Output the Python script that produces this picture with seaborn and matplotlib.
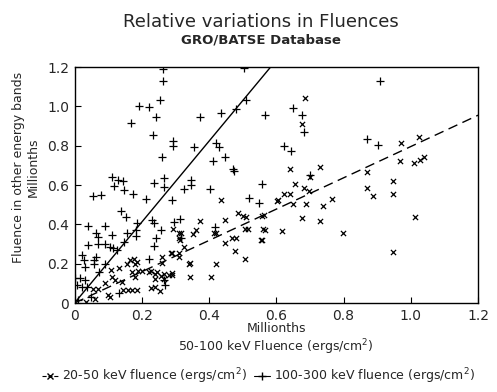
import numpy as np
import pandas as pd
import matplotlib
matplotlib.use("Agg")
import matplotlib.pyplot as plt
from matplotlib.lines import Line2D
import seaborn as sns

# ---------------- data ----------------
# 100-300 keV fluence ("+") vs 50-100 keV fluence (millionths ergs/cm^2)
plus_x = [0.263, 0.263, 0.253, 0.192, 0.221, 0.243, 0.168, 0.233, 0.293, 0.293, 0.259,
          0.372, 0.434, 0.481, 0.511, 0.503, 0.565, 0.354, 0.422, 0.431, 0.447, 0.412, 0.472,
          0.908, 0.649, 0.677, 0.682, 0.622, 0.644, 0.869, 0.902,
          0.556, 0.404, 0.346, 0.346, 0.324, 0.267, 0.267, 0.235, 0.290, 0.519, 0.548, 0.473, 0.700,
          0.213, 0.111, 0.128, 0.144, 0.116, 0.148, 0.173, 0.056, 0.080,
          0.137, 0.152, 0.187, 0.231, 0.236, 0.297, 0.315, 0.257, 0.243, 0.235, 0.183, 0.183, 0.419, 0.316,
          0.040, 0.092, 0.064, 0.070, 0.110, 0.156, 0.040, 0.070, 0.090, 0.105, 0.115, 0.125, 0.146,
          0.022, 0.064, 0.027, 0.057, 0.032, 0.057, 0.092, 0.072,
          0.002, 0.017, 0.032, 0.007, 0.022, 0.037, 0.221, 0.266, 0.131, 0.269, 0.050, 0.010]
plus_y = [1.188, 1.129, 1.032, 1.000, 0.998, 0.947, 0.913, 0.854, 0.825, 0.798, 0.741,
          0.947, 0.964, 0.985, 1.032, 1.193, 0.956, 0.791, 0.815, 0.791, 0.744, 0.722, 0.680,
          1.129, 0.990, 0.956, 0.871, 0.798, 0.772, 0.834, 0.806,
          0.605, 0.578, 0.625, 0.600, 0.578, 0.637, 0.591, 0.612, 0.524, 0.532, 0.510, 0.672, 0.651,
          0.527, 0.639, 0.625, 0.620, 0.595, 0.574, 0.554, 0.546, 0.547,
          0.469, 0.436, 0.408, 0.420, 0.408, 0.413, 0.425, 0.371, 0.329, 0.292, 0.371, 0.340, 0.388, 0.329,
          0.391, 0.391, 0.354, 0.336, 0.345, 0.354, 0.295, 0.298, 0.298, 0.285, 0.278, 0.270, 0.308,
          0.244, 0.232, 0.218, 0.218, 0.184, 0.200, 0.200, 0.159,
          0.125, 0.125, 0.117, 0.090, 0.082, 0.080, 0.222, 0.117, 0.052, 0.090, 0.030, 0.015]

# 20-50 keV fluence ("x") vs 50-100 keV fluence
cross_x = [0.436, 0.486, 0.500, 0.510, 0.558, 0.561, 0.553, 0.508, 0.516, 0.468, 0.481, 0.478, 0.506,
           0.446, 0.446, 0.372, 0.416, 0.422, 0.362, 0.352, 0.316, 0.293, 0.324, 0.314, 0.290, 0.310,
           0.344, 0.422, 0.344, 0.406, 0.290, 0.290, 0.265, 0.265, 0.240, 0.240, 0.220, 0.228, 0.200,
           0.190, 0.180, 0.165, 0.176, 0.186, 0.156, 0.132, 0.107, 0.112, 0.120, 0.140, 0.170, 0.180,
           0.246, 0.256, 0.280, 0.261, 0.261, 0.286, 0.310, 0.310, 0.310, 0.340,
           0.145, 0.158, 0.172, 0.187, 0.104, 0.240, 0.253, 0.228, 0.056, 0.070, 0.061, 0.034, 0.090, 0.100,
           0.603, 0.685, 0.677, 0.640, 0.729, 0.655, 0.682, 0.697, 0.623, 0.640, 0.606, 0.650, 0.687,
           0.739, 0.767, 0.677, 0.730, 0.563, 0.565, 0.616, 0.556, 0.799, 0.869, 0.869, 0.888, 0.948,
           0.948, 0.948, 1.012, 0.970, 1.025, 0.968, 1.009, 1.027, 1.039, 0.700]
cross_y = [0.524, 0.459, 0.444, 0.439, 0.444, 0.375, 0.320, 0.374, 0.374, 0.329, 0.329, 0.264, 0.222,
           0.303, 0.420, 0.418, 0.358, 0.358, 0.371, 0.349, 0.358, 0.378, 0.283, 0.320, 0.256, 0.235,
           0.204, 0.200, 0.134, 0.130, 0.140, 0.155, 0.150, 0.120, 0.148, 0.120, 0.160, 0.165, 0.163,
           0.163, 0.200, 0.220, 0.222, 0.210, 0.200, 0.177, 0.168, 0.134, 0.117, 0.108, 0.160, 0.134,
           0.160, 0.137, 0.142, 0.235, 0.205, 0.252, 0.354, 0.329, 0.252, 0.200,
           0.065, 0.065, 0.065, 0.065, 0.030, 0.080, 0.060, 0.075, 0.070, 0.072, 0.020, 0.007, 0.100, 0.040,
           0.520, 1.041, 0.910, 0.680, 0.693, 0.605, 0.583, 0.572, 0.554, 0.554, 0.524, 0.505, 0.505,
           0.493, 0.527, 0.434, 0.417, 0.447, 0.371, 0.368, 0.320, 0.358, 0.668, 0.586, 0.546, 0.620,
           0.552, 0.261, 0.439, 0.812, 0.842, 0.723, 0.710, 0.727, 0.740, 0.640]

# fitted relations
solid_fit_x = [0.0, 0.583]
solid_fit_y = [0.0, 1.2]
dashed_fit_x = [0.0, 1.2]
dashed_fit_y = [0.0, 0.955]

tick_vals = [0.0, 0.2, 0.4, 0.6, 0.8, 1.0, 1.2]
tick_labels = ["0", "0.2", "0.4", "0.6", "0.8", "1.0", "1.2"]

title = "Relative variations in Fluences"
subtitle = "GRO/BATSE Database"
label_cross = "20-50 keV fluence (ergs/cm$^2$)"
label_plus = "100-300 keV fluence (ergs/cm$^2$)"

# ---------------- plot ----------------
sns.set_theme(style="ticks")
plt.rcParams["font.family"] = ["DejaVu Sans"]
plt.rcParams["xtick.direction"] = "in"
plt.rcParams["ytick.direction"] = "in"

fig = plt.figure(figsize=(4.97, 3.92), dpi=100)
ax = fig.add_axes([0.150, 0.227, 0.812, 0.602])

df_plus = pd.DataFrame({"x": plus_x, "y": plus_y})
df_cross = pd.DataFrame({"x": cross_x, "y": cross_y})

sns.scatterplot(data=df_plus, x="x", y="y", marker="+", color="black", s=28,
                linewidth=0.9, ax=ax, legend=False)
sns.scatterplot(data=df_cross, x="x", y="y", marker="x", color="black", s=14,
                linewidth=0.9, ax=ax, legend=False)

sns.lineplot(x=solid_fit_x, y=solid_fit_y, color="black", lw=1.0, ax=ax)
dl = sns.lineplot(x=dashed_fit_x, y=dashed_fit_y, color="black", lw=1.0, ax=ax)
ax.lines[-1].set_dashes((7, 4))

ax.set_xlim(0, 1.2)
ax.set_ylim(0, 1.2)
ax.set_xticks(tick_vals)
ax.set_xticklabels(tick_labels, fontsize=10)
ax.set_yticks(tick_vals)
ax.set_yticklabels(tick_labels, fontsize=10)
ax.tick_params(length=4, width=0.8, color="black", pad=4)
for sp in ax.spines.values():
    sp.set_visible(True)
    sp.set_linewidth(1.0)
    sp.set_color("black")

ax.set_xlabel("Millionths\n50-100 keV Fluence (ergs/cm$^2$)", fontsize=9, linespacing=1.2)
ax.xaxis.set_label_coords(0.5, -0.08)
ax.xaxis.label.set_va("top")
ax.set_ylabel("Fluence in other energy bands\nMillionths", fontsize=9, linespacing=1.2)
ax.yaxis.set_label_coords(-0.085, 0.576)

fig.text(0.525, 0.944, title, ha="center", va="center", fontsize=13)
fig.text(0.525, 0.898, subtitle, ha="center", va="center", fontsize=9.5, fontweight="bold")

handles = [
    Line2D([0], [0], color="black", marker="x", markersize=4, linestyle="--", lw=0.8),
    Line2D([0], [0], color="black", marker="+", markersize=6, linestyle="-", lw=0.8),
]
fig.legend(handles, [label_cross, label_plus], loc="center", bbox_to_anchor=(0.52, 0.04),
           ncol=2, frameon=False, fontsize=9, handlelength=1.3, handletextpad=0.3,
           columnspacing=0.6)

fig.savefig("out.png", dpi=100)
